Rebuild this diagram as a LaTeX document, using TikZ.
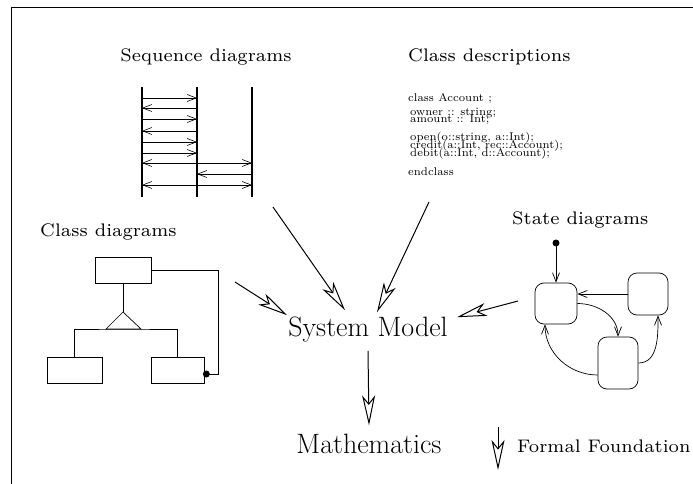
\documentclass[tikz,border=0pt]{standalone}
\usetikzlibrary{arrows.meta}

\tikzset{
    msg/.style={-{Straight Barb[length=9pt,width=7pt]},line width=0.6pt},
    life/.style={line width=1.1pt},
    bigarrow/.style={-{Stealth[open,length=30pt,width=13pt,inset=8pt]},line width=1pt},
    cls/.style={draw,line width=0.7pt,minimum height=26pt},
    state/.style={draw,rounded corners=9pt,line width=0.7pt},
    trans/.style={-{Straight Barb[length=9pt,width=7pt]},line width=0.7pt},
}
\newcommand{\lbl}[2][2.6]{\scalebox{#1}{\fontsize{7}{8}\selectfont #2}}
\newcommand{\codetxt}[1]{\scalebox{1.6}{\fontsize{7}{8}\selectfont #1}}
\newcommand{\bigfont}{\fontsize{28}{32}\selectfont}

\begin{document}
\begin{tikzpicture}[x=1pt,y=-1pt,every node/.style={inner sep=0pt}]
    \useasboundingbox(0,0)rectangle(693,484);
    \draw[line width=1pt](11,484)--(11,8)--(693,8);

    % sequence diagrams
    \node[anchor=base](seqlbl)at(206,62){\lbl{Sequence diagrams}};
    \coordinate(l1)at(142,87);\coordinate(l1b)at(142,197);
    \coordinate(l2)at(197,87);\coordinate(l2b)at(197,197);
    \coordinate(l3)at(252,87);\coordinate(l3b)at(252,197);
    \draw[life](l1)--(l1b);
    \draw[life](l2)--(l2b);
    \draw[life](l3)--(l3b);
    \foreach \y/\a/\b in {98/l1/l2,108/l2/l1,119/l1/l2,131/l2/l1,142/l1/l2,153/l1/l2,
                          163/l2/l1,163/l2/l3,174/l3/l2,185/l2/l1,185/l2/l3}
        \draw[msg](\a |- 0,\y)--(\b |- 0,\y);

    % class descriptions
    \node[anchor=base west](cdlbl)at(408,62){\lbl{Class descriptions}};
    \foreach \x/\y/\t [count=\i] in {408/102/{class Account ;},410/116/{owner :: string;},
        410/123/{amount :: Int;},410/140/{open(o::string, a::Int);},
        410/148/{credit(a::Int, rec::Account);},410/156/{debit(a::Int, d::Account);},
        408/175/{endclass}}
        \node[anchor=base west](code\i)at(\x,\y){\codetxt{\t}};

    % class diagrams
    \node[anchor=base west](cglbl)at(40,236){\lbl{Class diagrams}};
    \node[cls,minimum width=56pt](super)at(123,270){};
    \node[cls,minimum width=55pt](subl)at(74.5,370){};
    \node[cls,minimum width=53pt](subr)at(177.5,370){};
    \coordinate(apex)at(123,312);
    \coordinate(bar)at(123,329);
    \coordinate(assoc)at(218,374);
    \draw[line width=0.7pt](super.south)--(apex);
    \draw[line width=0.7pt](apex)--++(-17,17)--++(35,0)--cycle;
    \draw[line width=0.7pt](subl.north)|-(bar)-|(subr.north);
    \draw[line width=0.7pt](super.east)-|(assoc)--(subr.east |- assoc);
    \fill([xshift=2pt]subr.east |- assoc)circle(3.5pt);

    % state diagrams
    \node[anchor=base west](stlbl)at(512,224){\lbl{State diagrams}};
    \coordinate(init)at(556,243);
    \fill(init)circle(3.5pt);
    \node[state,minimum width=42pt,minimum height=41pt](s1)at(556,303.5){};
    \node[state,minimum width=40pt,minimum height=42pt](s2)at(648,294){};
    \node[state,minimum width=40pt,minimum height=52pt](s3)at(618,363){};
    \draw[trans](init)--(s1.north);
    \draw[trans](s2.west)--(s1.east |- s2.west);
    \draw[trans](s1.east)to[out=0,in=90](s3.north);
    \draw[trans]([yshift=-12pt]s3.west)to[out=180,in=-90]([xshift=-11pt]s1.south);
    \draw[trans](s3.east)to[out=0,in=-90]([xshift=10pt]s2.south);

    % system model
    \node[anchor=base](sm)at(368,336){\bigfont System Model};
    \coordinate(seqsrc)at(273,207);
    \coordinate(cdsrc)at(429,202);
    \coordinate(cgsrc)at(235,282);
    \coordinate(stsrc)at(518,301);
    \draw[bigarrow](seqsrc)--([xshift=-23pt,yshift=6pt]sm.north);
    \draw[bigarrow](cdsrc)--([xshift=9pt,yshift=4pt]sm.north);
    \draw[bigarrow](cgsrc)--([xshift=-1pt,yshift=1pt]sm.north west);
    \draw[bigarrow](stsrc)--([xshift=9pt,yshift=-1pt]sm.north east);

    \node[anchor=base](math)at(369,453){\bigfont Mathematics};
    \draw[bigarrow]([yshift=-9pt]sm.south)--([yshift=8pt]math.north);

    % legend
    \coordinate(lgtop)at(498,427);
    \coordinate(lgbot)at(498,470);
    \draw[bigarrow](lgtop)--(lgbot);
    \node[anchor=base west](ff)at(517,452){\lbl{Formal Foundation}};
\end{tikzpicture}
\end{document}
